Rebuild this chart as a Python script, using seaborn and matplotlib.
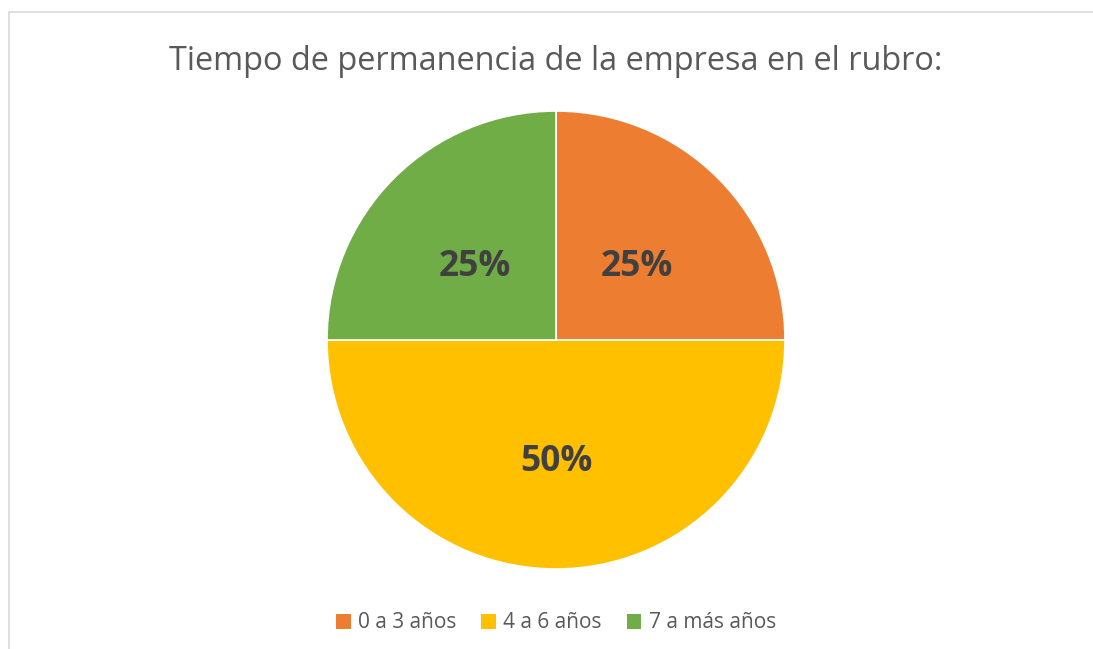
import matplotlib
matplotlib.use("Agg")
import matplotlib.pyplot as plt
from matplotlib.lines import Line2D
from matplotlib.patches import Patch
from matplotlib.transforms import offset_copy
import seaborn as sns

# data
categorias = ["0 a 3 años", "4 a 6 años", "7 a más años"]
porcentajes = [25, 50, 25]
colores = ["#ED7D31", "#FFC000", "#70AD47"]
titulo = "Tiempo de permanencia de la empresa en el rubro:"

sns.set_theme(style="white")
plt.rcParams['font.family'] = ['Open Sans', 'DejaVu Sans']

W, H = 1093, 649
fig = plt.figure(figsize=(W / 100, H / 100), dpi=100)
fig.patch.set_facecolor("white")

# pie axes, center (556, 340), radius 229 px
cx, cy, r = 556, 340, 229
ax = fig.add_axes([(cx - r) / W, (H - cy - r) / H, 2 * r / W, 2 * r / H])
wedges, texts, autotexts = ax.pie(
    porcentajes, colors=colores, startangle=90, counterclock=False,
    autopct="%1.0f%%", pctdistance=0.5, radius=1,
    wedgeprops=dict(edgecolor="white", linewidth=1.2),
    textprops=dict(color="#404040", fontsize=25.5, fontweight="bold"))
for t in autotexts:
    t.set_transform(offset_copy(t.get_transform(), fig=fig, x=0, y=-8, units="dots"))
ax.set_xlim(-1, 1)
ax.set_ylim(-1, 1)
ax.set_aspect("equal")
ax.axis("off")

fig.text(cx / W, 1 - 62 / H, titulo, ha="center", va="center",
         fontsize=23.4, color="#595959")

handles = [Patch(facecolor=c, edgecolor="none") for c in colores]
fig.legend(handles, categorias, loc="center", bbox_to_anchor=(cx / W, 1 - 623 / H),
           ncol=3, frameon=False, fontsize=15, labelcolor="#595959",
           handlelength=0.7, handleheight=0.7, handletextpad=0.35, columnspacing=1.2)

# chart border (left and top)
fig.add_artist(Line2D([9 / W, 9 / W], [0, 1 - 12 / H], color="#D9D9D9", lw=1.2))
fig.add_artist(Line2D([9 / W, 1], [1 - 12 / H, 1 - 12 / H], color="#D9D9D9", lw=1.2))

fig.savefig("out.png", dpi=100, facecolor="white")
